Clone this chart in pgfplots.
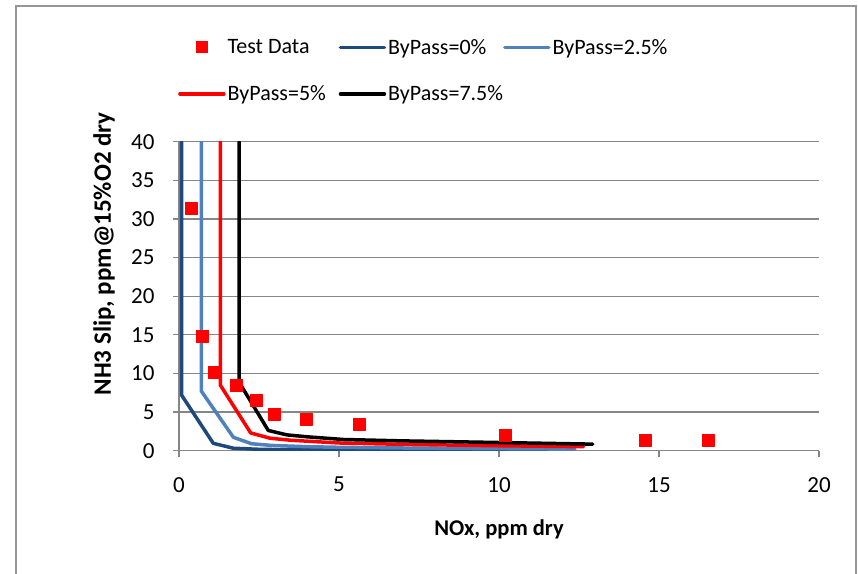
\documentclass[border=0pt]{standalone}
\usepackage{fontspec}
\setmainfont{Carlito}
\usepackage{pgfplots}
\pgfplotsset{compat=1.18}

\definecolor{bpzero}{RGB}{31,73,125}
\definecolor{bptwo}{RGB}{79,129,189}
\definecolor{gridgray}{RGB}{134,134,134}
\definecolor{framegray}{RGB}{150,150,150}

\pgfplotsset{
  bp line legend/.style={legend image code/.code={\draw[##1, line cap=round] (0pt,0pt) -- (44pt,0pt);}},
  bp square legend/.style={legend image code/.code={
    \path[draw=none, fill=none] (0pt,-1pt) rectangle (44pt,1pt);
    \fill[red, draw=none] (16pt,-6pt) rectangle (28pt,6pt);}},
}

\begin{document}
\begin{tikzpicture}
\useasboundingbox (0pt,0pt) rectangle (858pt,573pt);
% chart frame (runs past the lower edge of the page)
\draw[framegray, line width=1.8pt] (16pt,-20pt) -- (16pt,567pt) -- (856pt,567pt) -- (856pt,-20pt);
\begin{axis}[
  at={(179pt,122.3pt)}, anchor=south west,
  scale only axis, width=640pt, height=309pt,
  xmin=0, xmax=20, ymin=0, ymax=40,
  xtick={0,5,...,20}, ytick={0,5,...,40},
  axis x line*=bottom, axis y line*=left,
  ymajorgrids,
  grid style={gridgray, line width=1.2pt},
  axis line style={gridgray, line width=1.2pt},
  tick style={gridgray, line width=1.2pt},
  tick align=outside, major tick length=6pt,
  tick label style={font=\fontsize{23}{27}\selectfont},
  /pgf/number format/assume math mode=true,
  xticklabel style={yshift=-17pt},
  yticklabel style={xshift=-15pt},
  xlabel={NOx, ppm dry},
  ylabel={NH3 Slip, ppm@15\%O2 dry},
  xlabel style={font=\bfseries\fontsize{22.5}{27}\selectfont,
    at={(axis description cs:0.5,-0.255)}, anchor=center},
  ylabel style={font=\bfseries\fontsize{25}{29}\selectfont,
    at={(axis description cs:-0.117,0.637)}, anchor=center},
  legend columns=3,
  legend cell align=left,
  legend style={draw=none, fill=none, at={(axis description cs:-0.0016,1.333)},
    anchor=north west, inner sep=0pt, row sep=30pt,
    font=\fontsize{22}{26}\selectfont,
    nodes={inner sep=0pt},
    /tikz/every odd column/.style={column sep=2pt}},
  every axis plot/.append style={line width=3.5pt, line join=round, line cap=round},
]
% measured points
\addplot[only marks, mark=square*, mark size=6pt,
  mark options={draw=red, fill=red, line width=0.1pt}, bp square legend]
  coordinates {(0.37,31.4) (0.73,14.8) (1.10,10.2) (1.77,8.5) (2.41,6.5)
    (2.96,4.75) (3.96,4.07) (5.63,3.46) (10.2,2.03) (14.55,1.39) (16.52,1.39)};
\addlegendentry{\makebox[111pt][l]{Test Data}}
% model curves
\addplot[bpzero, bp line legend] coordinates {(0.08,40) (0.08,7.2) (1.07,0.96) (1.70,0.32) (2.5,0.18)
  (3.5,0.12) (5,0.08) (7,0.06) (10,0.04) (12.06,0.03)};
\addlegendentry{\makebox[108pt][l]{ByPass=0\%}}
\addplot[bptwo, bp line legend] coordinates {(0.70,40) (0.70,7.7) (1.70,1.73) (2.27,0.9) (2.9,0.68)
  (4,0.52) (5,0.44) (7,0.35) (10,0.26) (12.37,0.2)};
\addlegendentry{ByPass=2.5\%}
\addplot[red, bp line legend] coordinates {(1.29,40) (1.29,8.5) (2.24,2.3) (2.84,1.62) (3.5,1.35)
  (5,1.0) (7,0.82) (10,0.64) (12.64,0.52)};
\addlegendentry{ByPass=5\%}
\addplot[black, bp line legend] coordinates {(1.88,40) (1.88,8.85) (2.79,2.62) (3.37,2.05) (4,1.8)
  (5.14,1.45) (7,1.27) (10,1.06) (12.93,0.85)};
\addlegendentry{ByPass=7.5\%}
\end{axis}
\end{tikzpicture}
\end{document}
